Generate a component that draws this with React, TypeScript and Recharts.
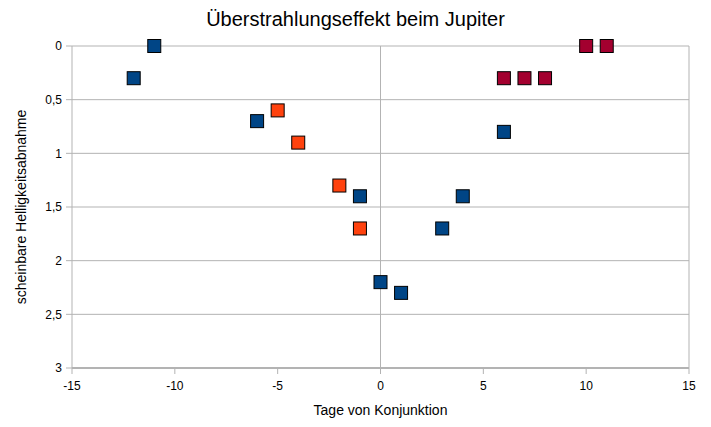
import { ScatterChart, Scatter, XAxis, YAxis, CartesianGrid, ReferenceLine, Label } from "recharts"

const blueDays = [-12, -11, -6, -1, 0, 1, 3, 4, 6]
const blueValues = [0.3, 0, 0.7, 1.4, 2.2, 2.3, 1.7, 1.4, 0.8]

const orangeDays = [-5, -4, -2, -1]
const orangeValues = [0.6, 0.9, 1.3, 1.7]

const redDays = [6, 7, 8, 10, 11]
const redValues = [0.3, 0.3, 0.3, 0, 0]

const xTicks = [-15, -10, -5, 0, 5, 10, 15]
const topTicks = [-10, -5, 5, 10]
const yTicks = [0, 0.5, 1, 1.5, 2, 2.5, 3]

const toPoints = (xs: number[], ys: number[]) => xs.map((x, i) => ({ x, y: ys[i] }))

const blue = toPoints(blueDays, blueValues)
const orange = toPoints(orangeDays, orangeValues)
const red = toPoints(redDays, redValues)

const GRID = "#b3b3b3"
const FONT = "'Liberation Sans', Arial, sans-serif"

const square = (fill: string) => (props: any) => {
    const { cx, cy } = props
    if (cx == null || cy == null) return <g />
    return (
        <rect
            x={cx - 6.5}
            y={cy - 6.5}
            width={13}
            height={13}
            fill={fill}
            stroke="#000"
            strokeWidth={1}
        />
    )
}

export default function App() {
    return (
        <div style={{ position: "absolute", left: 0, top: 0, width: 711, height: 427, background: "#fff", fontFamily: FONT }}>
            <div
                style={{
                    position: "absolute",
                    top: 8,
                    left: 0,
                    width: 711,
                    textAlign: "center",
                    fontSize: 20,
                    color: "#000",
                }}
            >
                Überstrahlungseffekt beim Jupiter
            </div>
            <ScatterChart
                width={711}
                height={427}
                margin={{ top: 46, right: 22, bottom: 19, left: 22 }}
            >
                <CartesianGrid vertical={false} stroke={GRID} strokeWidth={1} yAxisId="left" xAxisId="bottom" />
                <XAxis
                    xAxisId="bottom"
                    type="number"
                    dataKey="x"
                    domain={[-15, 15]}
                    ticks={xTicks}
                    height={40}
                    axisLine={{ stroke: GRID, strokeWidth: 2 }}
                    tickLine={{ stroke: GRID }}
                    tickSize={6}
                    tick={{ fill: "#000", fontSize: 12, fontFamily: FONT, dy: 5 }}
                    tickFormatter={(v: number) => String(v)}
                >
                    <Label
                        value="Tage von Konjunktion"
                        position="insideBottom"
                        offset={-7}
                        style={{ fill: "#000", fontSize: 14, fontFamily: FONT }}
                    />
                </XAxis>
                <XAxis
                    xAxisId="top"
                    orientation="top"
                    type="number"
                    dataKey="x"
                    domain={[-15, 15]}
                    ticks={topTicks}
                    height={0}
                    axisLine={false}
                    tickLine={{ stroke: GRID }}
                    tickSize={5}
                    tickFormatter={() => ""}
                />
                <YAxis
                    yAxisId="left"
                    type="number"
                    dataKey="y"
                    domain={[0, 3]}
                    reversed
                    ticks={yTicks}
                    width={50}
                    axisLine={{ stroke: GRID }}
                    tickLine={{ stroke: GRID }}
                    tickSize={6}
                    tick={{ fill: "#000", fontSize: 12, fontFamily: FONT, dx: -2 }}
                    tickFormatter={(v: number) => String(v).replace(".", ",")}
                >
                    <Label
                        value="scheinbare Helligkeitsabnahme"
                        angle={-90}
                        position="insideLeft"
                        offset={-1}
                        style={{ fill: "#000", fontSize: 14, fontFamily: FONT, textAnchor: "middle" }}
                    />
                </YAxis>
                <ReferenceLine x={0} xAxisId="bottom" yAxisId="left" stroke={GRID} />
                <ReferenceLine x={15} xAxisId="bottom" yAxisId="left" stroke={GRID} />
                <Scatter data={blue} xAxisId="bottom" yAxisId="left" shape={square("#004586")} isAnimationActive={false} />
                <Scatter data={orange} xAxisId="bottom" yAxisId="left" shape={square("#ff420e")} isAnimationActive={false} />
                <Scatter data={red} xAxisId="bottom" yAxisId="left" shape={square("#a3002f")} isAnimationActive={false} />
            </ScatterChart>
        </div>
    )
}
